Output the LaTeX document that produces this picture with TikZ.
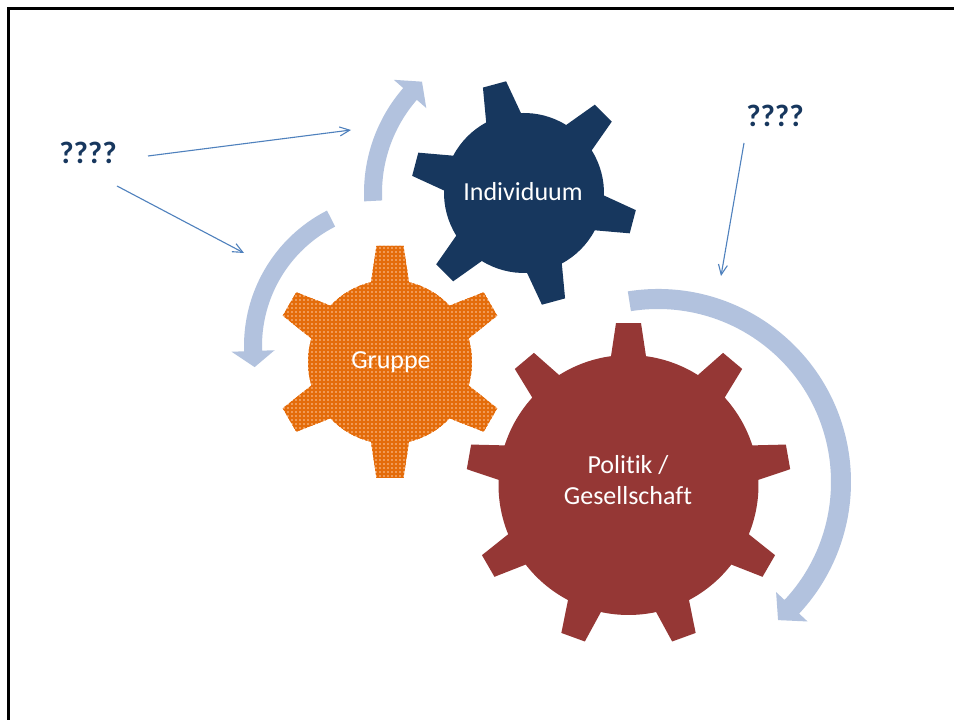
\documentclass[tikz,border=0pt]{standalone}
\usepackage{fontspec}
\setmainfont{Carlito}[Ligatures=NoCommon]
\usetikzlibrary{calc,arrows.meta,patterns}

\definecolor{navy}{HTML}{17375E}
\definecolor{brick}{HTML}{953735}
\definecolor{gearorange}{HTML}{F09A55}
\definecolor{plaidline}{HTML}{E46C0A}
\definecolor{cyclecol}{HTML}{B2C2DE}
\definecolor{pointercol}{HTML}{4F81BD}

% fine woven texture for the orange gear
\pgfdeclarepatternformonly{plaid}{\pgfqpoint{-1pt}{-1pt}}{\pgfqpoint{5pt}{5pt}}{\pgfqpoint{4pt}{4pt}}{%
  \pgfsetlinewidth{1.4pt}%
  \pgfpathmoveto{\pgfqpoint{-1pt}{2pt}}\pgfpathlineto{\pgfqpoint{5pt}{2pt}}%
  \pgfpathmoveto{\pgfqpoint{2pt}{-1pt}}\pgfpathlineto{\pgfqpoint{2pt}{5pt}}%
  \pgfusepath{stroke}}

% gear: #1 style, #2 centre, #3 teeth, #4 first tooth angle,
% #5 body radius, #6 tip radius, #7 half width at base, #8 half width at tip
\newcommand\gearshape[8]{%
  \pgfmathsetmacro\gb{asin(#7/#5)}%
  \pgfmathsetmacro\gt{atan(#8/#6)}%
  \pgfmathsetmacro\gtr{veclen(#6,#8)}%
  \pgfmathsetmacro\gstep{360/#3}%
  \pgfmathtruncatemacro\glast{#3-1}%
  \begin{scope}[shift={(#2)}]
    \fill[#1] ({#4-\gb}:{#5})
      \foreach \k [evaluate=\k as \a using #4+\k*\gstep] in {0,...,\glast} {
        -- ({\a-\gt}:{\gtr}) -- ({\a+\gt}:{\gtr}) -- ({\a+\gb}:{#5})
        arc[start angle={\a+\gb}, end angle={\a+\gstep-\gb}, radius=#5]
      } -- cycle;
  \end{scope}}

% curved arrow round a centre: #1 centre, #2 mid radius, #3 shaft half width,
% #4 start angle, #5 angle of the head's base, #6 angle of the tip
\newcommand\cyclearrow[6]{%
  \fill[cyclefill] ($(#1)+({#4}:{#2+#3})$) arc[start angle=#4, end angle=#5, radius={#2+#3}]
    -- ($(#1)+({#5}:{#2+21.5})$) -- ($(#1)+({#6}:{#2})$) -- ($(#1)+({#5}:{#2-21.5})$)
    -- ($(#1)+({#5}:{#2-#3})$) arc[start angle=#5, end angle=#4, radius={#2-#3}] -- cycle;}

\begin{document}
\begin{tikzpicture}[x=1pt,y=1pt,
  frameline/.style={draw=black, line width=2.6pt, line join=miter},
  cyclefill/.style={fill=cyclecol},
  indgear/.style={fill=navy},
  polgear/.style={fill=brick},
  grpgear/.style={fill=gearorange, postaction={pattern=plaid, pattern color=plaidline}},
  gearlabel/.style={text=white, inner sep=0pt, font=\fontsize{26}{31}\selectfont},
  qmark/.style={text=navy, inner sep=0pt, font=\fontsize{31}{37}\selectfont\bfseries},
  pointer/.style={draw=pointercol, line width=1.1pt, -{Straight Barb[length=10pt,width=9pt]}}]

\useasboundingbox (0,0) rectangle (954,720);
\fill[white] (0,0) rectangle (954,720);
\draw[frameline] (8.5,-5) -- (8.5,711.5) -- (960,711.5);

% centres of the gears and of the circular arrows
\coordinate (cInd) at (524,527);
\coordinate (cGrp) at (390,358);
\coordinate (cPol) at (628.5,235);
\coordinate (cArrB) at (396,374);
\coordinate (cArrC) at (658,238);

% circular arrows
\cyclearrow{cInd}{151}{9}{183}{139}{132.5}
\cyclearrow{cArrB}{143}{9}{117}{182}{188.5}
\cyclearrow{cArrC}{183}{10}{99}{-43}{-49}

% gears
\gearshape{polgear}{cPol}{9}{90}{130}{162}{17.5}{12.5}
\gearshape{grpgear}{cGrp}{6}{90}{82}{116}{19}{13.5}
\gearshape{indgear}{cInd}{6}{105.2}{80}{112.5}{18}{12}

% gear labels
\node[gearlabel, anchor=base] (tInd) at (523,519.3) {Individuum};
\node[gearlabel, anchor=base] (tGrp) at (391,351) {Gruppe};
\node[gearlabel, align=center] (tPol) at (628,240) {Politik /\\Gesellschaft};

% question marks and their pointers
\node[qmark, anchor=base] (q1) at (88,556) {????};
\node[qmark, anchor=base] (q2) at (775,593.3) {????};

\coordinate (p1s) at (148,564);
\coordinate (p1e) at (351,590);
\coordinate (p2s) at (117,534);
\coordinate (p2e) at (244,467);
\coordinate (p3s) at (744,577);
\coordinate (p3e) at (721,444);
\draw[pointer] (p1s) -- (p1e);
\draw[pointer] (p2s) -- (p2e);
\draw[pointer] (p3s) -- (p3e);
\end{tikzpicture}
\end{document}
